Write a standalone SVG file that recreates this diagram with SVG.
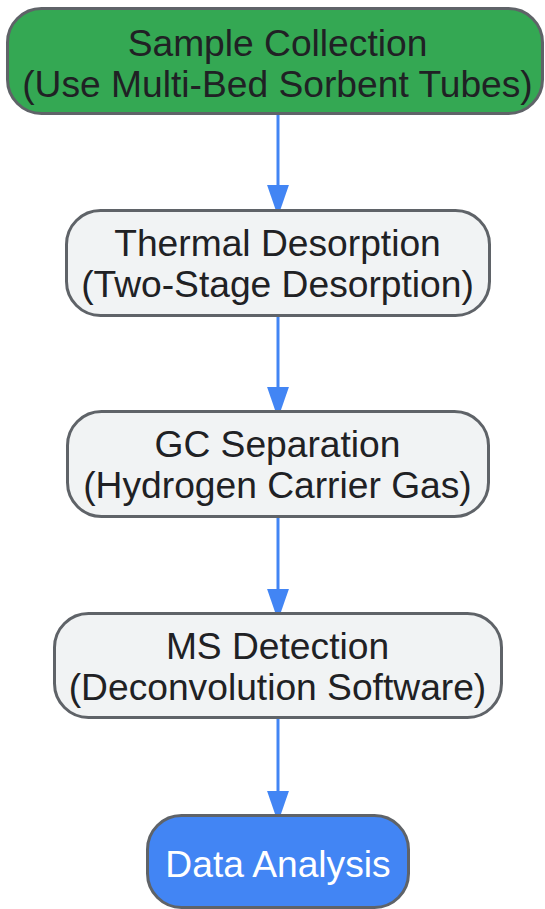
<svg xmlns="http://www.w3.org/2000/svg" width="545" height="909" viewBox="0 0 545 909">
<style>
.node rect{stroke:#5f6368;stroke-width:3}
.grey{fill:#f1f3f4}
text{font-family:"Liberation Sans",Arial,sans-serif;font-size:37.2px;fill:#202124;text-anchor:middle}
.white{fill:#ffffff}
.edge{stroke:#4285f4;stroke-width:3;fill:none}
</style>
<defs>
<marker id="arr" markerWidth="8" markerHeight="12" refX="7.5" refY="4" orient="auto" markerUnits="strokeWidth">
<path d="M0,0.3 L10.7,4 L0,7.7 Z" fill="#4285f4"/>
</marker>
</defs>
<g id="connectors">
<line class="edge" x1="278" y1="114" x2="278" y2="207" marker-end="url(#arr)"/>
<line class="edge" x1="278" y1="316" x2="278" y2="409" marker-end="url(#arr)"/>
<line class="edge" x1="278" y1="517" x2="278" y2="611" marker-end="url(#arr)"/>
<line class="edge" x1="278" y1="718" x2="278" y2="813" marker-end="url(#arr)"/>
</g>
<g id="n1" class="node">
<rect x="7.5" y="8.5" width="535" height="105" rx="34" fill="#34a853"/>
<text x="277.5" y="56">Sample Collection</text>
<text x="277.5" y="97">(Use Multi-Bed Sorbent Tubes)</text>
</g>
<g id="n2" class="node">
<rect class="grey" x="66.5" y="210.5" width="423" height="105" rx="34"/>
<text x="277.5" y="256">Thermal Desorption</text>
<text x="277.5" y="297">(Two-Stage Desorption)</text>
</g>
<g id="n3" class="node">
<rect class="grey" x="67.5" y="411.5" width="421" height="105" rx="34"/>
<text x="277.5" y="457">GC Separation</text>
<text x="277.5" y="498">(Hydrogen Carrier Gas)</text>
</g>
<g id="n4" class="node">
<rect class="grey" x="54.5" y="613.5" width="447" height="104" rx="34"/>
<text x="277.5" y="659">MS Detection</text>
<text x="277.5" y="700">(Deconvolution Software)</text>
</g>
<g id="n5" class="node">
<rect x="147.5" y="815.5" width="261" height="92" rx="34" fill="#4285f4"/>
<text class="white" x="278" y="877">Data Analysis</text>
</g>
</svg>
